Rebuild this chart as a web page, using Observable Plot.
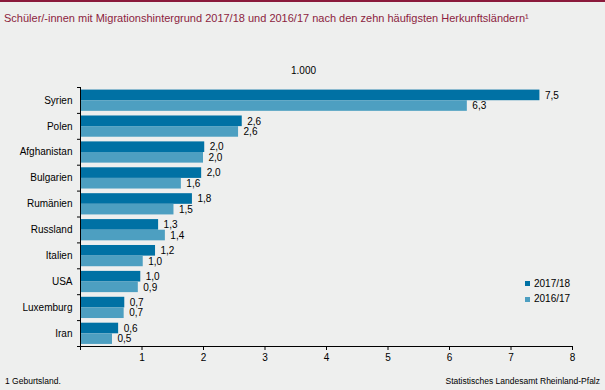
<!DOCTYPE html>
<html>
<head>
<meta charset="utf-8">
<script src="https://cdn.jsdelivr.net/npm/d3@7"></script>
<script src="https://cdn.jsdelivr.net/npm/@observablehq/plot@0.6"></script>
<style>
  body { margin: 0; background: #eeefee; }
  #wrap { position: relative; width: 605px; height: 390px; background: #eeefee; overflow: hidden;
          font-family: Arial, "Liberation Sans", sans-serif; color: #000; }
  #wrap svg { position: absolute; left: 0; top: 0; }
  .abs { position: absolute; line-height: 1; white-space: nowrap; }
  #topbar { position: absolute; left: 0; top: 0; width: 605px; height: 2px; background: #8b1a3c; }
  #title { left: 4px; top: 13px; font-size: 11px; color: #8c1d40; }
  #unit { left: 291px; top: 65.5px; font-size: 10px; }
  #legend { left: 525px; top: 276px; font-size: 10px; }
  #legend .row { display: flex; align-items: center; height: 15.5px; }
  #legend .sw { width: 5px; height: 5px; margin-right: 4px; }
  #fnote { left: 5px; top: 377px; font-size: 8.5px; }
  #source { right: 5px; top: 377px; font-size: 8.5px; }
</style>
</head>
<body>
<div id="wrap">
  <div id="topbar"></div>
  <div id="title" class="abs">Schüler/-innen mit Migrationshintergrund 2017/18 und 2016/17 nach den zehn häufigsten Herkunftsländern¹</div>
  <div id="unit" class="abs">1.000</div>
  <div id="legend" class="abs"></div>
  <div id="fnote" class="abs">1 Geburtsland.</div>
  <div id="source" class="abs">Statistisches Landesamt Rheinland-Pfalz</div>
</div>
<script>
const countries = ["Syrien", "Polen", "Afghanistan", "Bulgarien", "Rumänien", "Russland", "Italien", "USA", "Luxemburg", "Iran"];
const values2017 = [7.47, 2.63, 2.02, 1.97, 1.82, 1.27, 1.22, 0.98, 0.72, 0.62];
const values2016 = [6.29, 2.57, 2.0, 1.64, 1.52, 1.38, 1.02, 0.94, 0.71, 0.52];
const seriesNames = ["2017/18", "2016/17"];
const seriesColors = ["#0071a4", "#4d9fc1"];
const xTicks = [0, 1, 2, 3, 4, 5, 6, 7, 8];

const fmt = v => v.toFixed(1).replace(".", ",");

const data = countries.flatMap((c, i) => [
  { country: c, i, s: 0, series: seriesNames[0], value: values2017[i] },
  { country: c, i, s: 1, series: seriesNames[1], value: values2016[i] }
]);
const y1 = d => d.i + (d.s === 0 ? 0.1 : 0.51);
const y2 = d => d.i + (d.s === 0 ? 0.51 : 0.92);
const ym = d => (y1(d) + y2(d)) / 2;

const chart = Plot.plot({
  width: 605,
  height: 390,
  marginLeft: 80,
  marginRight: 33,
  marginTop: 87,
  marginBottom: 44,
  style: { background: "transparent", fontFamily: 'Arial, "Liberation Sans", sans-serif', fontSize: "10px", color: "#000" },
  x: { domain: [0, 8], axis: null },
  y: { domain: [10, 0], axis: null },
  color: { domain: seriesNames, range: seriesColors },
  marks: [
    Plot.rectX(data, { x1: 0, x2: "value", y1, y2, fill: "series" }),
    Plot.text(data, { x: "value", y: ym, text: d => fmt(d.value), textAnchor: "start", dx: 5, fill: "#000", fontSize: 10 }),
    Plot.ruleX([0], { stroke: "#000" }),
    Plot.ruleY([10], { stroke: "#000" }),
    Plot.axisY({ ticks: countries.map((_, i) => i + 0.5), tickFormat: d => countries[Math.floor(d)], tickSize: 0, tickPadding: 8, label: null, fontSize: 10 }),
    Plot.axisY({ ticks: d3.range(11), tickFormat: () => "", tickSize: 3, label: null }),
    Plot.axisX({ ticks: xTicks, tickFormat: d => (d === 0 ? "" : String(d)), tickSize: 4, tickPadding: 3, label: null, fontSize: 10 })
  ]
});
document.getElementById("wrap").appendChild(chart);

const legend = document.getElementById("legend");
seriesNames.forEach((n, k) => {
  const row = document.createElement("div");
  row.className = "row";
  const sw = document.createElement("span");
  sw.className = "sw";
  sw.style.background = seriesColors[k];
  const t = document.createElement("span");
  t.textContent = n;
  row.appendChild(sw);
  row.appendChild(t);
  legend.appendChild(row);
});
</script>
</body>
</html>
